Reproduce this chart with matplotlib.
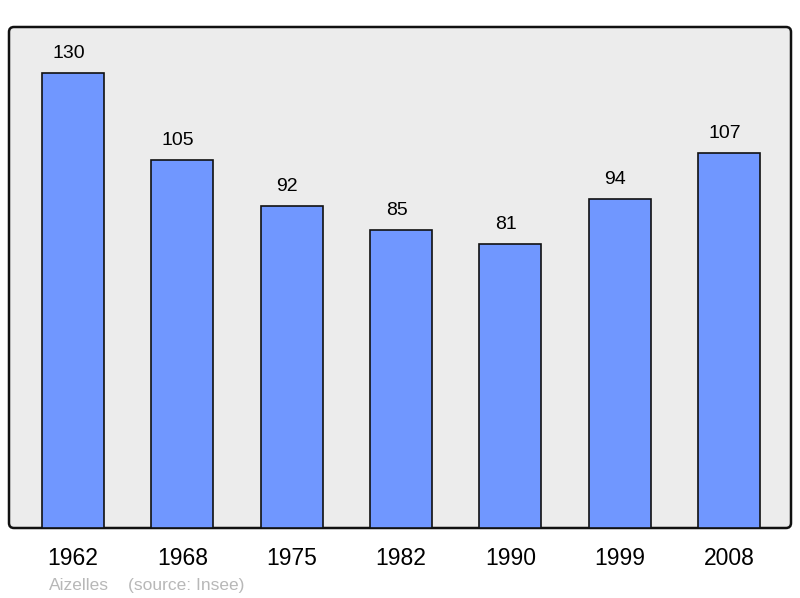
import matplotlib.pyplot as plt
import matplotlib.transforms as mtransforms
from matplotlib.patches import FancyBboxPatch

years = ["1962", "1968", "1975", "1982", "1990", "1999", "2008"]
population = [130, 105, 92, 85, 81, 94, 107]
commune = "Aizelles"
source = "(source: Insee)"

plt.rcParams['font.family'] = ['Liberation Sans', 'DejaVu Sans']

W, H = 800, 598
fig = plt.figure(figsize=(W / 100, H / 100), dpi=100)
x0, x1, y0, y1 = 9, 791, 27, 528
ax = fig.add_axes([x0 / W, 1 - y1 / H, (x1 - x0) / W, (y1 - y0) / H])
ax.patch.set_visible(False)

# rounded frame in pixel coordinates, behind the axes
frame = FancyBboxPatch((x0, H - y1), x1 - x0, y1 - y0,
                       boxstyle="round,pad=0,rounding_size=5",
                       facecolor='#ececec', edgecolor='#111111', linewidth=1.8,
                       transform=mtransforms.IdentityTransform(), zorder=-5)
fig.patches.append(frame)

pos = list(range(len(years)))
ax.bar(pos, population, width=0.567, color='#7097ff', edgecolor='#111111',
       linewidth=1.2, zorder=2)
for p, v in zip(pos, population):
    ax.text(p - 0.04, v + 4.3, str(v), ha='center', va='baseline', fontsize=14)

ax.set_xlim(-0.585, 6.567)
ax.set_ylim(0, 143.1)
for s in ax.spines.values():
    s.set_visible(False)
ax.set_yticks([])
ax.set_xticks(pos)
ax.set_xticklabels(years, fontsize=16.5)
ax.tick_params(axis='x', length=0, pad=14)

fig.text(49 / W, 1 - 590 / H, commune, fontsize=12.5,
         color='#b8b8b8', ha='left', va='baseline')
fig.text(128 / W, 1 - 590 / H, source, fontsize=12.5,
         color='#b8b8b8', ha='left', va='baseline')

fig.savefig('out.png', dpi=100)
